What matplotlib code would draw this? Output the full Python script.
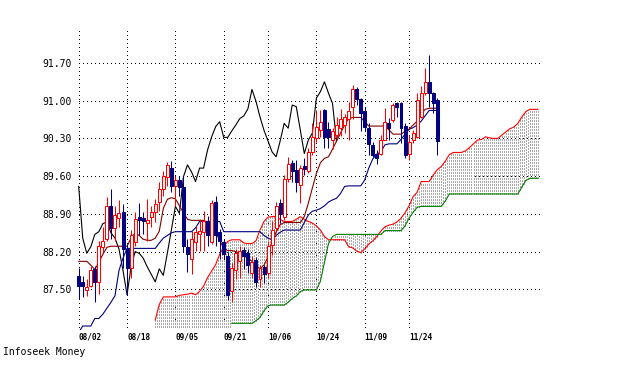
import numpy as np
import matplotlib
matplotlib.use("Agg")
import matplotlib.pyplot as plt
from matplotlib.patches import Rectangle

# ---------------- data ----------------
date_labels = ['08/02', '08/18', '09/05', '09/21', '10/06', '10/24', '11/09', '11/24']
date_index = [0, 12, 24, 36, 47, 59, 71, 82]
price_ticks = [87.50, 88.20, 88.90, 89.60, 90.30, 91.00, 91.70]

opens = [87.75, 87.64, 87.48, 87.57, 87.88, 87.63, 88.28, 88.43, 89.05, 88.63,
         88.82, 88.93, 88.25, 87.90, 88.37, 88.84, 88.82, 88.73, 88.85, 88.93,
         89.12, 89.37, 89.58, 89.75, 89.42, 89.53, 89.40, 88.28, 88.06, 88.37,
         88.53, 88.56, 88.77, 88.37, 89.13, 88.56, 88.38, 88.11, 87.47, 87.85,
         88.02, 88.23, 88.18, 87.80, 88.05, 87.70, 87.92, 87.80, 88.32, 88.63,
         89.10, 88.85, 89.54, 89.84, 89.72, 89.44, 89.78, 89.70, 90.05, 90.30,
         90.46, 90.82, 90.47, 90.27, 90.36, 90.49, 90.55, 90.67, 90.88, 91.21,
         91.04, 90.80, 90.50, 90.18, 90.02, 90.02, 90.27, 90.58, 90.64, 90.95,
         90.95, 90.53, 90.02, 90.27, 90.33, 90.70, 91.14, 91.35, 91.14, 91.01]
highs = [87.90, 87.75, 87.69, 87.94, 87.94, 88.40, 88.65, 89.21, 89.37, 89.05,
         89.15, 89.08, 88.35, 88.60, 88.93, 89.11, 88.93, 89.17, 89.05, 89.17,
         89.49, 89.70, 89.87, 89.89, 89.61, 89.61, 89.61, 88.43, 88.59, 88.68,
         88.80, 88.96, 88.87, 89.15, 89.24, 88.62, 88.43, 88.20, 87.98, 88.25,
         88.30, 88.28, 88.25, 88.12, 88.10, 87.95, 87.96, 88.40, 88.76, 89.13,
         89.18, 89.62, 89.96, 89.90, 89.90, 89.80, 89.93, 90.12, 90.58, 90.83,
         90.83, 90.85, 90.60, 90.50, 90.70, 90.85, 90.75, 90.98, 91.29, 91.25,
         91.05, 90.89, 90.58, 90.24, 90.08, 90.36, 90.86, 90.68, 90.95, 90.98,
         90.98, 90.58, 90.36, 90.45, 91.14, 91.27, 91.60, 91.85, 91.17, 91.05]
lows = [87.32, 87.35, 87.38, 87.54, 87.26, 87.41, 88.19, 88.40, 88.43, 88.40,
        88.65, 87.90, 87.40, 87.72, 88.31, 88.50, 88.53, 88.40, 88.65, 88.75,
        88.96, 89.24, 89.42, 89.30, 89.05, 89.24, 88.19, 87.82, 87.79, 88.22,
        88.22, 88.22, 88.31, 88.34, 88.31, 88.07, 88.07, 87.30, 87.27, 87.70,
        87.72, 87.88, 87.80, 87.72, 87.55, 87.55, 87.62, 87.72, 88.14, 88.60,
        88.73, 88.79, 89.50, 89.50, 89.31, 89.10, 89.62, 89.65, 90.00, 90.24,
        90.33, 90.12, 90.12, 90.10, 90.30, 90.35, 90.40, 90.27, 90.67, 90.92,
        90.44, 90.43, 89.99, 89.96, 89.83, 89.99, 90.27, 90.27, 90.61, 90.70,
        90.21, 89.93, 89.90, 90.22, 90.30, 90.68, 91.10, 90.89, 90.77, 90.00]
closes = [87.57, 87.56, 87.55, 87.85, 87.63, 88.31, 88.40, 89.05, 88.63, 88.88,
          88.92, 88.25, 87.90, 88.50, 88.81, 88.79, 88.76, 88.79, 88.93, 89.08,
          89.37, 89.61, 89.80, 89.42, 89.52, 89.40, 88.31, 88.16, 88.43, 88.56,
          88.59, 88.77, 88.50, 89.11, 88.50, 88.40, 88.16, 87.40, 87.90, 88.18,
          88.22, 88.12, 87.95, 88.00, 87.64, 87.90, 87.78, 88.30, 88.61, 89.05,
          88.90, 89.55, 89.82, 89.70, 89.50, 89.75, 89.73, 90.05, 90.33, 90.52,
          90.61, 90.32, 90.32, 90.44, 90.55, 90.67, 90.70, 90.80, 91.21, 91.04,
          90.77, 90.52, 90.20, 89.99, 89.93, 90.27, 90.61, 90.49, 90.92, 90.89,
          90.49, 89.99, 90.24, 90.40, 91.01, 91.14, 91.35, 91.14, 90.95, 90.25]

tenkan = [88.02, 88.02, 88.02, 87.95, 87.87, 88.00, 88.15, 88.28, 88.30, 88.30,
          88.30, 88.30, 88.30, 88.45, 88.55, 88.50, 88.43, 88.41, 88.41, 88.45,
          88.58, 89.00, 89.17, 89.20, 89.18, 89.05, 88.92, 88.80, 88.78, 88.78,
          88.78, 88.78, 88.74, 88.70, 88.55, 88.42, 88.25, 88.22, 88.22, 88.20,
          88.16, 88.12, 88.08, 88.02, 87.95, 87.88, 87.95, 88.10, 88.40, 88.56,
          88.70, 88.74, 88.74, 88.74, 88.74, 88.74, 88.85, 89.10, 89.38, 89.65,
          89.85, 89.93, 89.96, 90.10, 90.25, 90.40, 90.55, 90.67, 90.69, 90.69,
          90.69, 90.61, 90.53, 90.53, 90.53, 90.53, 90.53, 90.46, 90.38, 90.38,
          90.38, 90.43, 90.47, 90.55, 90.62, 90.75, 90.84, 90.86, 90.86, 90.86]
kijun = [86.70, 86.82, 86.82, 86.82, 86.96, 86.96, 87.04, 87.15, 87.26, 87.38,
         87.85, 88.08, 88.26, 88.26, 88.26, 88.26, 88.26, 88.26, 88.26, 88.26,
         88.36, 88.45, 88.50, 88.55, 88.57, 88.57, 88.57, 88.57, 88.57, 88.64,
         88.76, 88.76, 88.76, 88.76, 88.76, 88.76, 88.57, 88.57, 88.57, 88.57,
         88.57, 88.57, 88.57, 88.57, 88.57, 88.57, 88.50, 88.45, 88.42, 88.50,
         88.56, 88.60, 88.60, 88.60, 88.60, 88.60, 88.74, 88.88, 88.95, 88.97,
         89.00, 89.05, 89.12, 89.16, 89.19, 89.28, 89.41, 89.42, 89.42, 89.42,
         89.42, 89.53, 89.75, 89.92, 90.01, 90.05, 90.18, 90.20, 90.20, 90.20,
         90.28, 90.38, 90.47, 90.50, 90.55, 90.62, 90.72, 90.82, 90.82, 90.82]

# leading span A, visible from bar 19 to bar 114
span_a_start = 19
span_a = [86.93, 87.22, 87.36, 87.36, 87.36, 87.36, 87.39, 87.40, 87.41, 87.43,
          87.40, 87.46, 87.56, 87.72, 87.84, 87.96, 88.15, 88.29, 88.39, 88.42,
          88.42, 88.42, 88.36, 88.35, 88.35, 88.40, 88.60, 88.76, 88.84, 88.85,
          88.85, 88.80, 88.76, 88.76, 88.76, 88.80, 88.85, 88.80, 88.76, 88.73,
          88.68, 88.60, 88.48, 88.42, 88.42, 88.42, 88.42, 88.42, 88.29, 88.27,
          88.21, 88.18, 88.25, 88.34, 88.40, 88.48, 88.58, 88.66, 88.69, 88.71,
          88.75, 88.82, 88.92, 89.05, 89.22, 89.30, 89.50, 89.50, 89.50, 89.62,
          89.72, 89.78, 89.88, 90.00, 90.04, 90.04, 90.04, 90.07, 90.13, 90.20,
          90.27, 90.28, 90.33, 90.31, 90.30, 90.30, 90.36, 90.42, 90.48, 90.51,
          90.58, 90.70, 90.80, 90.84, 90.84, 90.84]
# leading span B, visible from bar 38 to bar 114
span_b_start = 38
span_b = [86.87, 86.87, 86.87, 86.87, 86.87, 86.87, 86.92, 86.98, 87.10, 87.20,
          87.21, 87.21, 87.21, 87.21, 87.26, 87.33, 87.38, 87.46, 87.49, 87.49,
          87.49, 87.49, 87.65, 88.00, 88.35, 88.48, 88.52, 88.52, 88.52, 88.52,
          88.52, 88.52, 88.52, 88.52, 88.52, 88.52, 88.52, 88.52, 88.59, 88.59,
          88.59, 88.59, 88.59, 88.68, 88.82, 88.93, 89.02, 89.04, 89.04, 89.04,
          89.04, 89.04, 89.04, 89.14, 89.27, 89.27, 89.27, 89.27, 89.27, 89.27,
          89.27, 89.27, 89.27, 89.27, 89.27, 89.27, 89.27, 89.27, 89.27, 89.27,
          89.27, 89.27, 89.40, 89.52, 89.56, 89.56, 89.56]
# lagging span, from bar 0 to bar 64
lagging = [89.41, 88.45, 88.17, 88.29, 88.52, 88.57, 88.72, 88.75, 88.55, 88.45,
           88.25, 87.85, 87.40, 87.92, 88.20, 88.17, 88.08, 87.92, 87.78, 87.64,
           87.88, 87.76, 88.17, 88.60, 89.04, 88.91, 89.59, 89.81, 89.68, 89.50,
           89.75, 89.75, 90.09, 90.33, 90.52, 90.61, 90.32, 90.32, 90.44, 90.55,
           90.67, 90.72, 90.85, 91.21, 90.99, 90.70, 90.45, 90.25, 90.05, 89.96,
           90.25, 90.58, 90.49, 90.92, 90.89, 90.46, 90.02, 90.27, 90.40, 91.05,
           91.17, 91.35, 91.14, 90.95, 90.25]

# ---------------- figure ----------------
MONO = 'DejaVu Sans Mono'
UP = '#ff0000'
DOWN = '#000080'

fig = plt.figure(figsize=(6.3, 3.74), dpi=100)
ax = fig.add_axes([76 / 630, 44 / 374, 466 / 630, 300 / 374])
y_bottom, y_top = 86.746, 92.312
last_bar = span_a_start + len(span_a) - 1
ax.set_xlim(-0.67, last_bar + 1.0)
ax.set_ylim(y_bottom, y_top)
for s in ax.spines.values():
    s.set_visible(False)
ax.set_facecolor('white')

dots = (0, (1, 3.2))
for v in price_ticks:
    ax.plot([0, last_bar + 0.6], [v, v], color='black', lw=0.72,
            linestyle=dots, antialiased=False, zorder=1)
grid_floor = 86.80
for d in date_index:
    ax.plot([d, d], [grid_floor, y_top], color='black', lw=0.72,
            linestyle=dots, antialiased=False, zorder=1)

# cloud stipple
a_x = np.arange(span_a_start, span_a_start + len(span_a))
b_x = np.arange(span_b_start, span_b_start + len(span_b))
xs = np.arange(span_a_start, last_bar + 0.01, 0.5)
a_i = np.interp(xs, a_x, span_a)
b_i = np.where(xs >= span_b_start, np.interp(xs, b_x, span_b), grid_floor)
ax.vlines(xs, np.minimum(a_i, b_i), np.maximum(a_i, b_i), colors='#a8a8a8',
          linestyles=[(0, (1, 1.7))], linewidth=0.75, antialiased=False, zorder=2)

lw = 0.8
ax.plot(a_x, span_a, color='#ff0000', lw=lw, zorder=3)
ax.plot(b_x, span_b, color='#008000', lw=lw, zorder=3)
ax.plot(np.arange(len(lagging)), lagging, color='black', lw=lw, zorder=3)
ax.plot(np.arange(len(kijun)), kijun, color='#000080', lw=lw, zorder=4)
ax.plot(np.arange(len(tenkan)), tenkan, color='#800000', lw=lw, zorder=4)

# candles
bw = 0.74
for i, (o, h, l, c) in enumerate(zip(opens, highs, lows, closes)):
    up = c >= o
    col = UP if up else DOWN
    ax.vlines(i, l, h, colors=col, linewidth=0.75, zorder=5)
    lo = min(o, c)
    ht = max(abs(c - o), 0.02)
    ax.add_patch(Rectangle((i - bw / 2, lo), bw, ht,
                           facecolor='white' if up else DOWN,
                           edgecolor=col, linewidth=0.75, zorder=6))

ax.set_yticks(price_ticks)
ax.set_yticklabels([f'{v:.2f}' for v in price_ticks], family=MONO, fontsize=7)
ax.set_xticks(date_index)
ax.set_xticklabels(date_labels, family=MONO, fontsize=5.6, fontweight='bold', ha='left')
ax.tick_params(axis='both', length=0)
ax.tick_params(axis='y', pad=3)
ax.tick_params(axis='x', pad=2)

fig.text(3 / 630, 1 - 352 / 374, 'Infoseek Money', family=MONO, fontsize=7,
         ha='left', va='center')

fig.savefig('out.png', dpi=100, facecolor='white')
